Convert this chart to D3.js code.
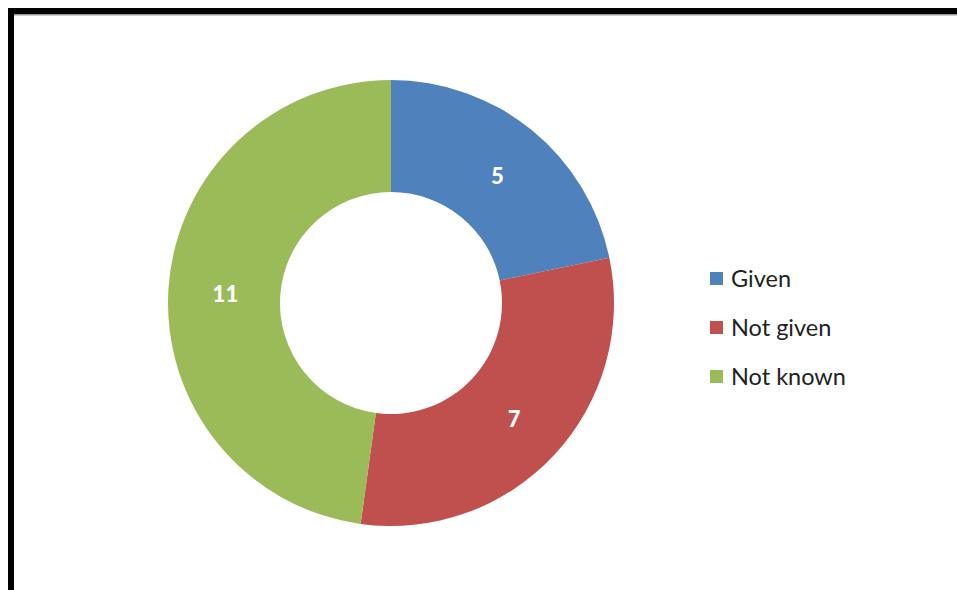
<!DOCTYPE html>
<html>
<head>
<meta charset="utf-8">
<script src="https://cdn.jsdelivr.net/npm/d3@7"></script>
<style>
  html, body { margin: 0; padding: 0; background: #fff; }
  svg { display: block; }
</style>
</head>
<body>
<svg id="chart" width="957" height="590"></svg>
<script>
// Response counts by status
const categories = ["Given", "Not given", "Not known"];
const values = [5, 7, 11];
const colors = ["#4F81BD", "#C0504D", "#9BBB59"];

const svg = d3.select("#chart");
const W = 957, H = 590;

// Frame: thick black border on top and left with a thin grey inner line
svg.append("rect").attr("x", 0).attr("y", 0).attr("width", W).attr("height", H).attr("fill", "#fff");
svg.append("rect").attr("x", 8).attr("y", 8).attr("width", W - 8).attr("height", 6).attr("fill", "#000");
svg.append("rect").attr("x", 14).attr("y", 14).attr("width", W - 14).attr("height", 1.5).attr("fill", "#999");
svg.append("rect").attr("x", 8).attr("y", 8).attr("width", 6).attr("height", H - 8).attr("fill", "#000");

const cx = 391, cy = 303, outerR = 223, innerR = 111;

const color = d3.scaleOrdinal().domain(categories).range(colors);

const pie = d3.pie().sort(null).value(d => d.value);
const arcs = pie(categories.map((c, i) => ({ category: c, value: values[i] })));
const arc = d3.arc().innerRadius(innerR).outerRadius(outerR);

const g = svg.append("g").attr("transform", `translate(${cx},${cy})`);

g.selectAll("path.slice")
  .data(arcs)
  .join("path")
  .attr("class", "slice")
  .attr("d", arc)
  .attr("fill", d => color(d.data.category));

g.selectAll("text.value")
  .data(arcs)
  .join("text")
  .attr("class", "value")
  .attr("transform", d => { const [x, y] = arc.centroid(d); return `translate(${x + 1},${y + 2})`; })
  .attr("text-anchor", "middle")
  .attr("dominant-baseline", "central")
  .attr("font-family", "Lato, 'Open Sans', sans-serif")
  .attr("font-weight", 900)
  .attr("font-size", 22)
  .attr("fill", "#fff")
  .text(d => d.data.value);

// Legend
const legend = svg.append("g").attr("transform", "translate(710,278)");
const rows = legend.selectAll("g.row")
  .data(categories)
  .join("g")
  .attr("class", "row")
  .attr("transform", (d, i) => `translate(0,${i * 49})`);

rows.append("rect")
  .attr("x", 0).attr("y", -6)
  .attr("width", 13).attr("height", 13)
  .attr("fill", d => color(d));

rows.append("text")
  .attr("x", 21).attr("y", 0)
  .attr("dominant-baseline", "central")
  .attr("font-family", "Lato, 'Open Sans', sans-serif")
  .attr("font-size", 23.5)
  .attr("fill", "#222")
  .text(d => d);
</script>
</body>
</html>
